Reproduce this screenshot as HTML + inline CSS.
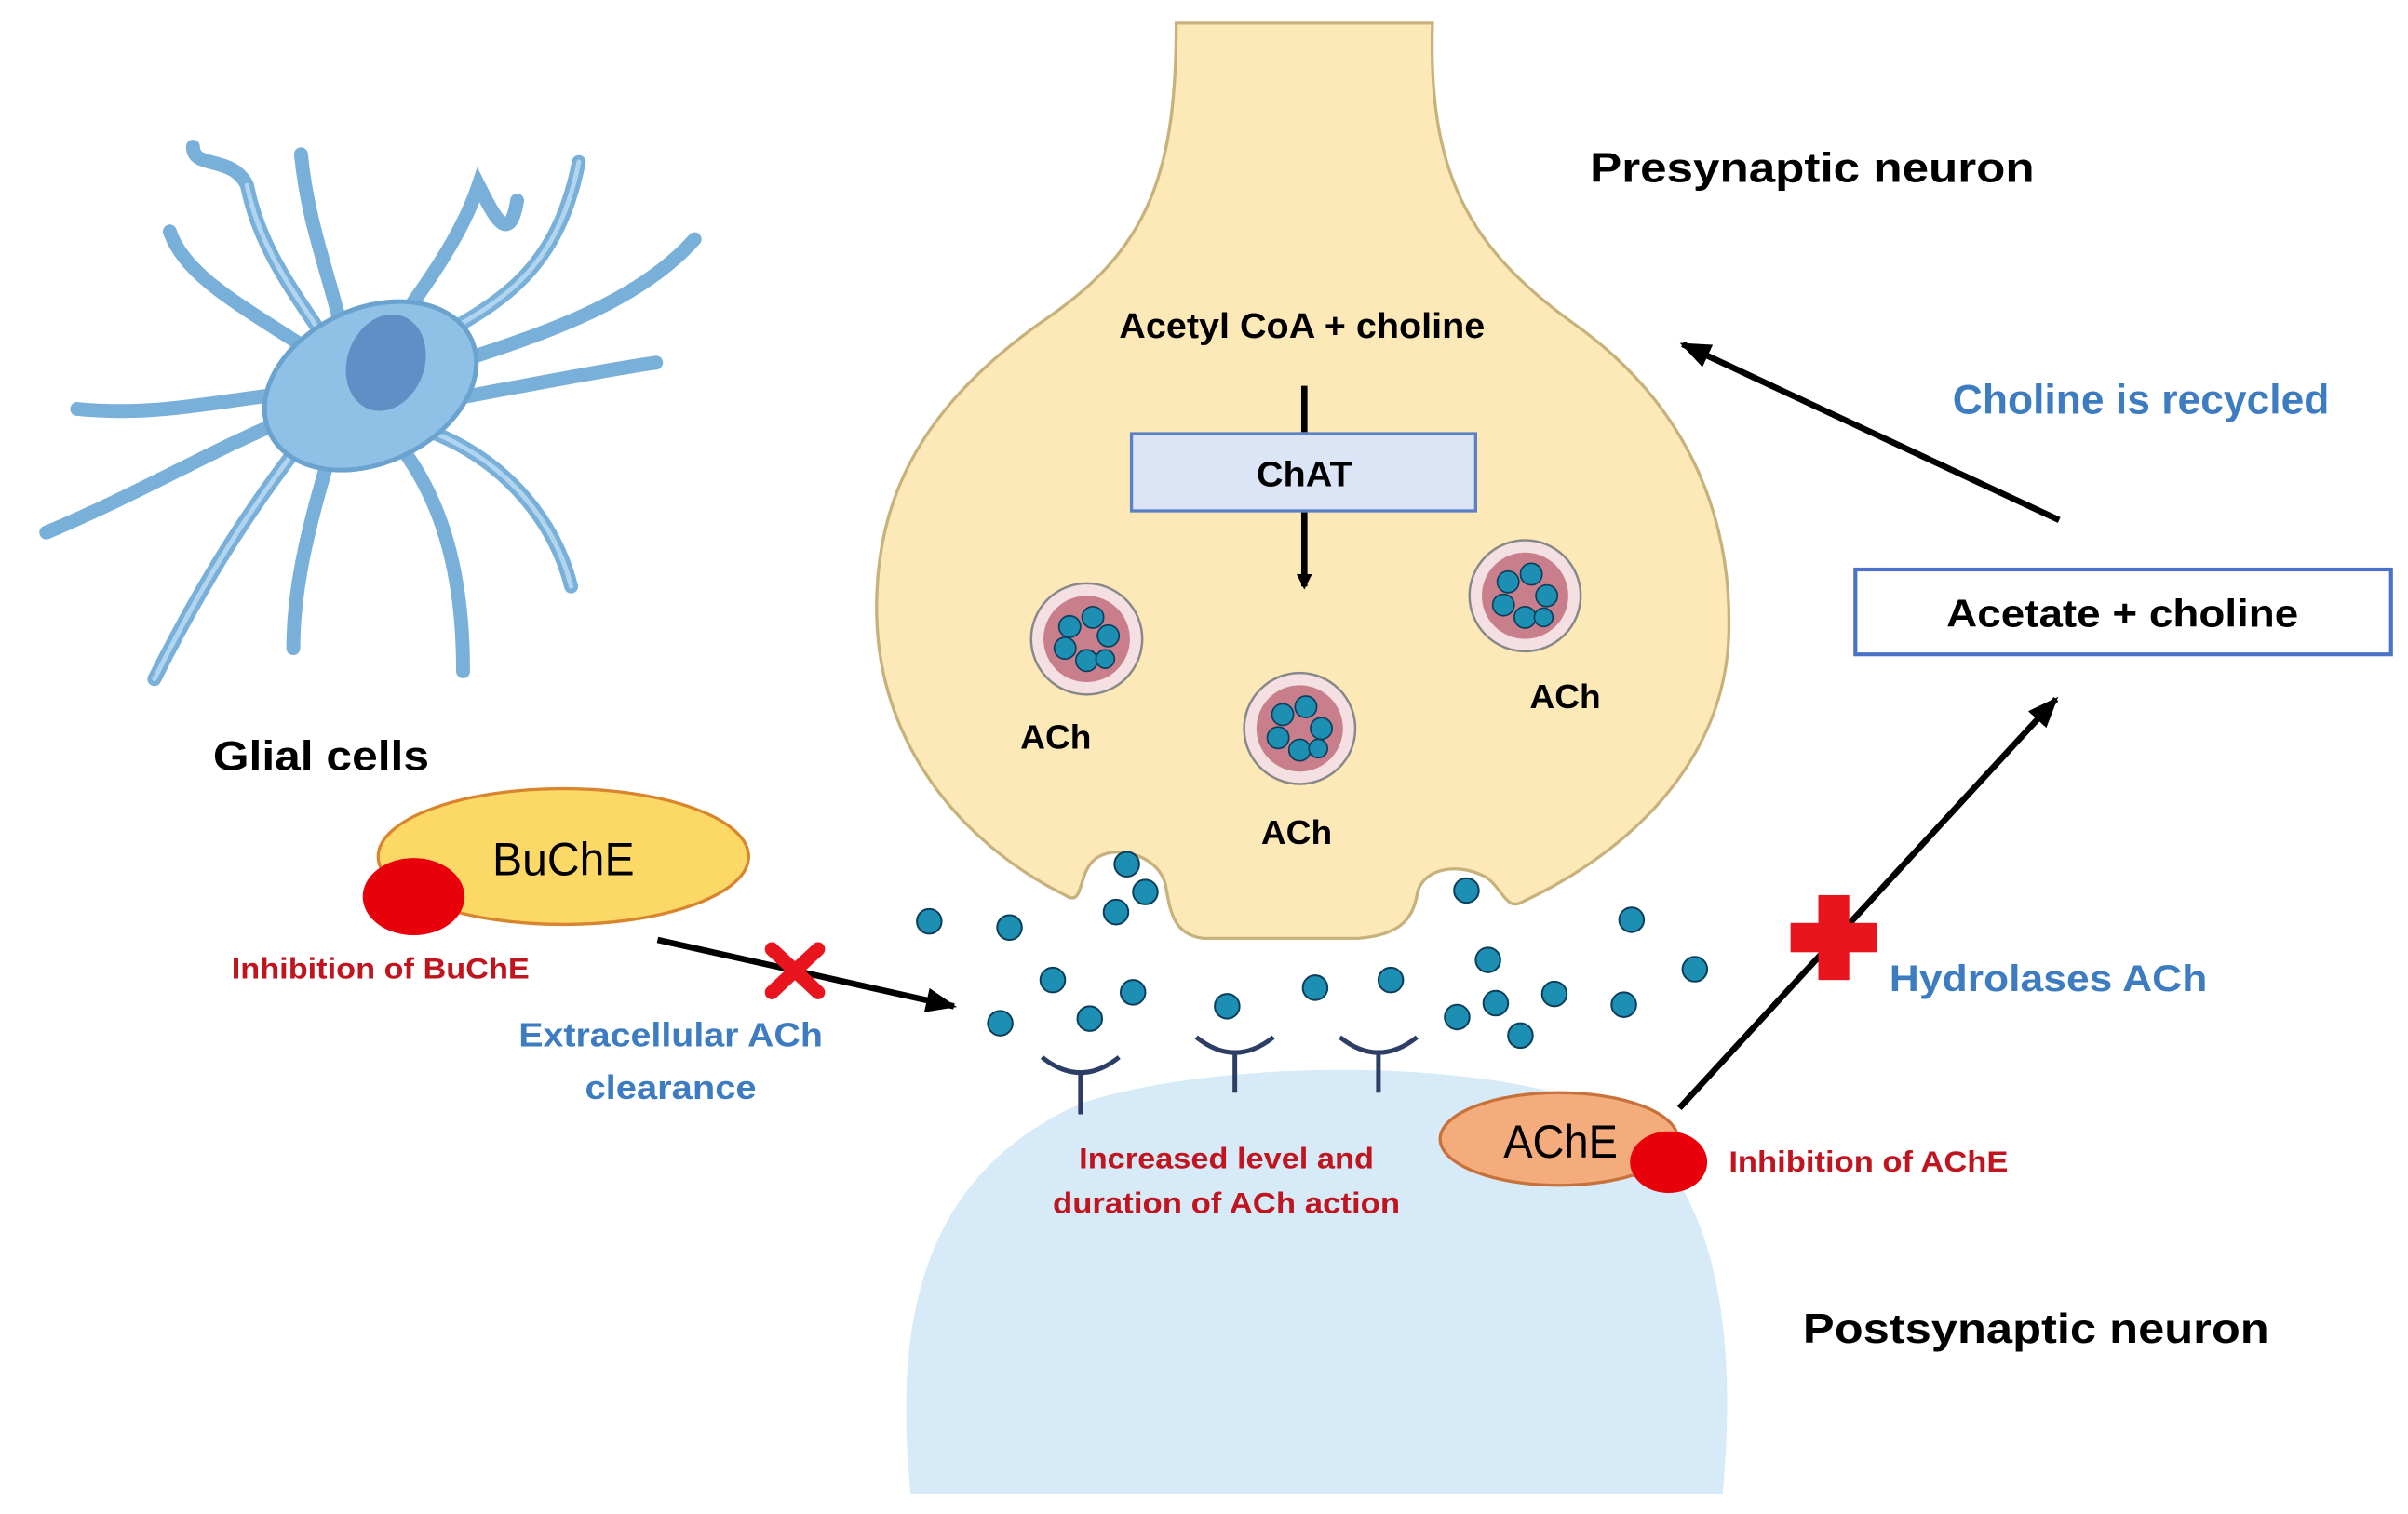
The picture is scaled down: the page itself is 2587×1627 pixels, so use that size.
<!DOCTYPE html>
<html><head><meta charset="utf-8"><style>
html,body{margin:0;padding:0;background:#fff;}
svg{display:block;}
text{font-family:"Liberation Sans",sans-serif;font-weight:bold;}
</style></head><body>
<svg width="2587" height="1627" viewBox="0 0 1560 981" preserveAspectRatio="none" xmlns="http://www.w3.org/2000/svg">
<defs>
<marker id="ah" markerWidth="10" markerHeight="10" refX="8" refY="5" orient="auto" markerUnits="userSpaceOnUse"><path d="M0,0 L10,5 L0,10 z" fill="#000"/></marker>
<marker id="ah2" markerWidth="20" markerHeight="16" refX="18" refY="8" orient="auto" markerUnits="userSpaceOnUse"><path d="M0,0 L20,8 L0,16 z" fill="#000"/></marker>
</defs>
<rect width="1560" height="981" fill="#fff"/>
<path d="M590,968 C578,850 600,760 700,715 C780,688 950,683 1040,718 C1112,760 1126,860 1116,968 Z" fill="#d7eaf8"/>
<path d="M762,15 L928,15 C925,110 950,160 1020,210 C1090,260 1122,330 1120,410 C1118,490 1060,550 985,585 C975,590 972,572 960,567 C940,558 920,565 918,580 C915,597 905,606 880,608 L780,608 C760,606 758,590 755,573 C750,553 720,546 708,558 C698,568 702,588 690,580 C620,545 570,480 568,400 C566,320 600,260 680,205 C745,160 762,110 762,15 Z" fill="#fde9b8" stroke="#c8b27c" stroke-width="2"/>
<g fill="none" stroke-linecap="round" stroke="#79b0da" stroke-width="9">
<path d="M230,250 C200,200 170,170 160,120 C150,100 125,110 125,95"/>
<path d="M225,230 C215,180 200,150 195,100"/>
<path d="M250,220 C280,180 300,150 310,120 C320,140 330,160 335,130"/>
<path d="M260,230 C320,200 360,180 375,105"/>
<path d="M280,240 C340,220 410,200 450,155"/>
<path d="M285,260 C340,250 390,240 425,235"/>
<path d="M280,280 C330,300 360,340 370,380"/>
<path d="M260,290 C290,330 300,380 300,435"/>
<path d="M215,290 C200,340 190,380 190,420"/>
<path d="M200,280 C170,320 140,360 100,440"/>
<path d="M190,270 C140,290 90,320 30,345"/>
<path d="M185,255 C140,260 100,270 50,265"/>
<path d="M205,230 C160,200 120,180 110,150"/>
</g>
<g fill="none" stroke-linecap="round" stroke="#b2d5ef" stroke-width="3">
<path d="M230,250 C200,200 170,170 160,120"/>
<path d="M260,230 C320,200 360,180 375,105"/>
<path d="M280,280 C330,300 360,340 370,380"/>
<path d="M200,280 C170,320 140,360 100,440"/>
</g>
<ellipse cx="240" cy="250" rx="72" ry="50" transform="rotate(-25 240 250)" fill="#8fc1e6" stroke="#6aa3cf" stroke-width="3"/>
<ellipse cx="250" cy="235" rx="25" ry="32" transform="rotate(20 250 235)" fill="#5f8fc4"/>
<text x="1030" y="118" font-size="27" textLength="288" lengthAdjust="spacingAndGlyphs">Presynaptic neuron</text>
<text x="1168" y="870" font-size="27" textLength="302" lengthAdjust="spacingAndGlyphs">Postsynaptic neuron</text>
<text x="138" y="499" font-size="27" textLength="140" lengthAdjust="spacingAndGlyphs">Glial cells</text>
<text x="725" y="219" font-size="23" textLength="237" lengthAdjust="spacingAndGlyphs">Acetyl CoA + choline</text>
<line x1="845" y1="250" x2="845" y2="280" stroke="#000" stroke-width="4"/>
<rect x="733" y="281" width="223" height="50" fill="#dbe5f5" stroke="#5b80c6" stroke-width="2"/>
<text x="814" y="315" font-size="23" textLength="62" lengthAdjust="spacingAndGlyphs">ChAT</text>
<line x1="845" y1="332" x2="845" y2="380" stroke="#000" stroke-width="4" marker-end="url(#ah)"/>
<g stroke="#888" stroke-width="1.5">
<circle cx="704" cy="414" r="36" fill="#f4e0e2"/><circle cx="704" cy="414" r="28" fill="#c97f8b" stroke="none"/>
<circle cx="842" cy="472" r="36" fill="#f4e0e2"/><circle cx="842" cy="472" r="28" fill="#c97f8b" stroke="none"/>
<circle cx="988" cy="386" r="36" fill="#f4e0e2"/><circle cx="988" cy="386" r="28" fill="#c97f8b" stroke="none"/>
</g>
<g fill="#1c8fb3" stroke="#0c3d5a" stroke-width="1">
<circle cx="693" cy="406" r="7"/><circle cx="708" cy="400" r="7"/><circle cx="718" cy="412" r="7"/><circle cx="704" cy="428" r="7"/><circle cx="690" cy="420" r="7"/><circle cx="716" cy="427" r="6"/>
<circle cx="831" cy="463" r="7"/><circle cx="846" cy="458" r="7"/><circle cx="856" cy="472" r="7"/><circle cx="842" cy="486" r="7"/><circle cx="828" cy="478" r="7"/><circle cx="854" cy="485" r="6"/>
<circle cx="977" cy="377" r="7"/><circle cx="992" cy="372" r="7"/><circle cx="1002" cy="386" r="7"/><circle cx="988" cy="400" r="7"/><circle cx="974" cy="392" r="7"/><circle cx="1000" cy="400" r="6"/>
</g>
<text x="661" y="485" font-size="22" textLength="46" lengthAdjust="spacingAndGlyphs">ACh</text>
<text x="817" y="547" font-size="22" textLength="46" lengthAdjust="spacingAndGlyphs">ACh</text>
<text x="991" y="459" font-size="22" textLength="46" lengthAdjust="spacingAndGlyphs">ACh</text>
<g fill="#1c8fb3" stroke="#0c3d5a" stroke-width="1.2">
<circle cx="730" cy="560" r="8"/><circle cx="742" cy="578" r="8"/><circle cx="723" cy="591" r="8"/><circle cx="950" cy="577" r="8"/>
<circle cx="602" cy="597" r="8"/><circle cx="654" cy="601" r="8"/><circle cx="682" cy="635" r="8"/><circle cx="734" cy="643" r="8"/>
<circle cx="706" cy="660" r="8"/><circle cx="648" cy="663" r="8"/><circle cx="795" cy="652" r="8"/><circle cx="852" cy="640" r="8"/>
<circle cx="901" cy="635" r="8"/><circle cx="964" cy="622" r="8"/><circle cx="969" cy="650" r="8"/><circle cx="944" cy="659" r="8"/>
<circle cx="1007" cy="644" r="8"/><circle cx="985" cy="671" r="8"/><circle cx="1057" cy="596" r="8"/><circle cx="1098" cy="628" r="8"/><circle cx="1052" cy="651" r="8"/>
</g>
<g fill="none" stroke="#2d3e66" stroke-width="3">
<path d="M675,685 Q700,705 725,685 M700,695 L700,722"/>
<path d="M775,672 Q800,692 825,672 M800,682 L800,708"/>
<path d="M868,672 Q893,692 918,672 M893,682 L893,708"/>
</g>
<text x="699" y="757" font-size="19" fill="#c0141e" textLength="191" lengthAdjust="spacingAndGlyphs">Increased level and</text>
<text x="682" y="786" font-size="19" fill="#c0141e" textLength="225" lengthAdjust="spacingAndGlyphs">duration of ACh action</text>
<ellipse cx="365" cy="555" rx="120" ry="44" fill="#fcd866" stroke="#d9852e" stroke-width="2"/>
<text x="319" y="567" font-size="30" style="font-weight:normal" textLength="92" lengthAdjust="spacingAndGlyphs">BuChE</text>
<ellipse cx="268" cy="581" rx="33" ry="25" fill="#e8000b"/>
<text x="150" y="634" font-size="19" fill="#c0141e" textLength="193" lengthAdjust="spacingAndGlyphs">Inhibition of BuChE</text>
<line x1="426" y1="609" x2="618" y2="652" stroke="#000" stroke-width="4" marker-end="url(#ah2)"/>
<g stroke="#e8141e" stroke-width="9" stroke-linecap="round"><line x1="500" y1="615" x2="530" y2="643"/><line x1="530" y1="615" x2="500" y2="643"/></g>
<text x="336" y="678" font-size="22" fill="#3d7cc0" textLength="197" lengthAdjust="spacingAndGlyphs">Extracellular ACh</text>
<text x="379" y="712" font-size="22" fill="#3d7cc0" textLength="111" lengthAdjust="spacingAndGlyphs">clearance</text>
<ellipse cx="1010" cy="738" rx="77" ry="30" fill="#f4ac7c" stroke="#c9713a" stroke-width="2"/>
<text x="974" y="750" font-size="30" style="font-weight:normal" textLength="74" lengthAdjust="spacingAndGlyphs">AChE</text>
<ellipse cx="1081" cy="753" rx="25" ry="20" fill="#e8000b"/>
<text x="1120" y="759" font-size="19" fill="#c0141e" textLength="181" lengthAdjust="spacingAndGlyphs">Inhibition of AChE</text>
<line x1="1088" y1="718" x2="1332" y2="453" stroke="#000" stroke-width="4" marker-end="url(#ah2)"/>
<g fill="#e8141e"><rect x="1178" y="580" width="20" height="55"/><rect x="1160" y="598" width="56" height="19"/></g>
<text x="1224" y="642" font-size="24" fill="#3d7cc0" textLength="206" lengthAdjust="spacingAndGlyphs">Hydrolases ACh</text>
<rect x="1202" y="369" width="347" height="55" fill="#fff" stroke="#4a72c8" stroke-width="2.5"/>
<text x="1261" y="406" font-size="25" textLength="228" lengthAdjust="spacingAndGlyphs">Acetate + choline</text>
<line x1="1334" y1="337" x2="1090" y2="223" stroke="#000" stroke-width="4" marker-end="url(#ah2)"/>
<text x="1265" y="268" font-size="27" fill="#3d7cc0" textLength="244" lengthAdjust="spacingAndGlyphs">Choline is recycled</text>
</svg>
</body></html>
